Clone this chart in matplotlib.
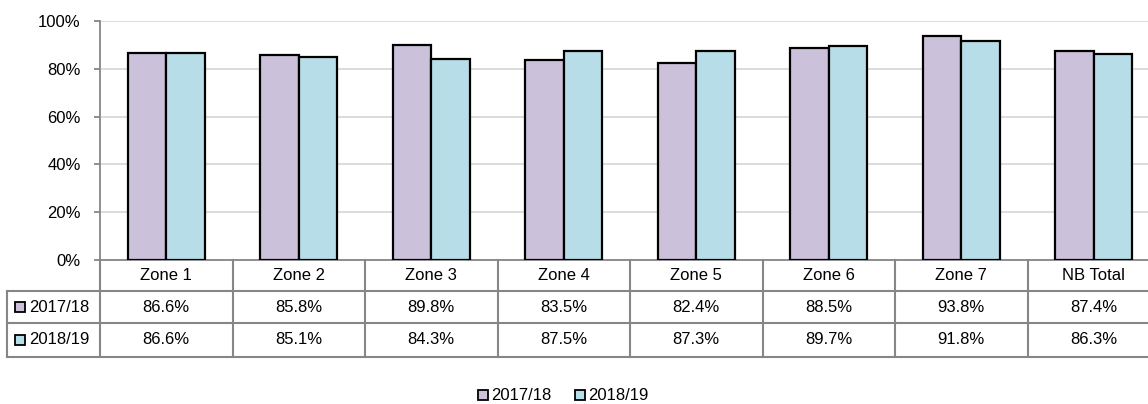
import matplotlib
matplotlib.use('Agg')
import matplotlib.pyplot as plt
import matplotlib.transforms as mtransforms
from matplotlib.patches import Rectangle
import numpy as np

plt.rcParams['font.family'] = ['Liberation Sans', 'DejaVu Sans']

zones = ['Zone 1', 'Zone 2', 'Zone 3', 'Zone 4', 'Zone 5', 'Zone 6', 'Zone 7', 'NB Total']
years = ['2017/18', '2018/19']
vals_1718 = [86.6, 85.8, 89.8, 83.5, 82.4, 88.5, 93.8, 87.4]
vals_1819 = [86.6, 85.1, 84.3, 87.5, 87.3, 89.7, 91.8, 86.3]
colors = ['#CCC1DA', '#B7DEE8']

W, H = 1148, 404
fig = plt.figure(figsize=(W / 100, H / 100), dpi=100)
# axes run a bit past the right edge, like the original export
ax = fig.add_axes([100 / W, (H - 260) / H, 1060 / W, 239 / H])

x = np.arange(len(zones))
bw = 0.29
for i, (vals, c) in enumerate(zip([vals_1718, vals_1819], colors)):
    ax.bar(x + (i - 0.5) * bw, vals, bw, color=c, edgecolor='black', linewidth=1.6, zorder=3)

ax.set_xlim(-0.5, len(zones) - 0.5)
ax.set_ylim(0, 100)
ax.set_yticks(range(0, 101, 20))
ax.set_yticklabels([f'{t}%' for t in range(0, 101, 20)], fontsize=12)
ax.set_xticks([])
ax.grid(axis='y', color='#D9D9D9', linewidth=1.3, zorder=0)
for s in ['top', 'right']:
    ax.spines[s].set_visible(False)
for s in ['left', 'bottom']:
    ax.spines[s].set_color('#868686')
    ax.spines[s].set_linewidth(1.3)
ax.tick_params(axis='y', length=4, color='#868686', width=1.3, pad=10)

# data table below the axes
line_c = '#868686'
tr = mtransforms.blended_transform_factory(ax.transData, fig.transFigure)

def fy(py):
    return 1 - py / H

rows_y = [260, 291, 323, 357]
# horizontal lines
for py in rows_y[1:]:
    fig.add_artist(plt.Line2D([7 / W, 1], [fy(py), fy(py)], color=line_c, lw=1.5))
# vertical lines between categories
for k in range(len(zones)):
    ax.plot([k - 0.5, k - 0.5], [fy(rows_y[0]), fy(rows_y[-1])], transform=tr,
            color=line_c, lw=1.5, clip_on=False)
fig.add_artist(plt.Line2D([7 / W, 7 / W], [fy(rows_y[1]), fy(rows_y[-1])], color=line_c, lw=1.5))

row_mid = [(rows_y[k] + rows_y[k + 1]) / 2 for k in range(3)]
for k, z in enumerate(zones):
    ax.text(k, fy(row_mid[0]), z, transform=tr, ha='center', va='center', fontsize=12)
    ax.text(k, fy(row_mid[1]), f'{vals_1718[k]:.1f}%', transform=tr, ha='center', va='center', fontsize=12)
    ax.text(k, fy(row_mid[2]), f'{vals_1819[k]:.1f}%', transform=tr, ha='center', va='center', fontsize=12)

for k, (yr, c) in enumerate(zip(years, colors)):
    cy = row_mid[k + 1]
    fig.add_artist(Rectangle((15 / W, fy(cy + 5)), 10 / W, 10 / H, transform=fig.transFigure,
                             facecolor=c, edgecolor='black', lw=1.3))
    fig.text(29 / W, fy(cy), yr, ha='left', va='center', fontsize=12)

# legend
leg_x = [478, 575]
for lx, yr, c in zip(leg_x, years, colors):
    fig.add_artist(Rectangle((lx / W, fy(400)), 10 / W, 10 / H, transform=fig.transFigure,
                             facecolor=c, edgecolor='black', lw=1.3))
    fig.text((lx + 13) / W, fy(395), yr, ha='left', va='center', fontsize=12)

fig.savefig('out.png', dpi=100)
